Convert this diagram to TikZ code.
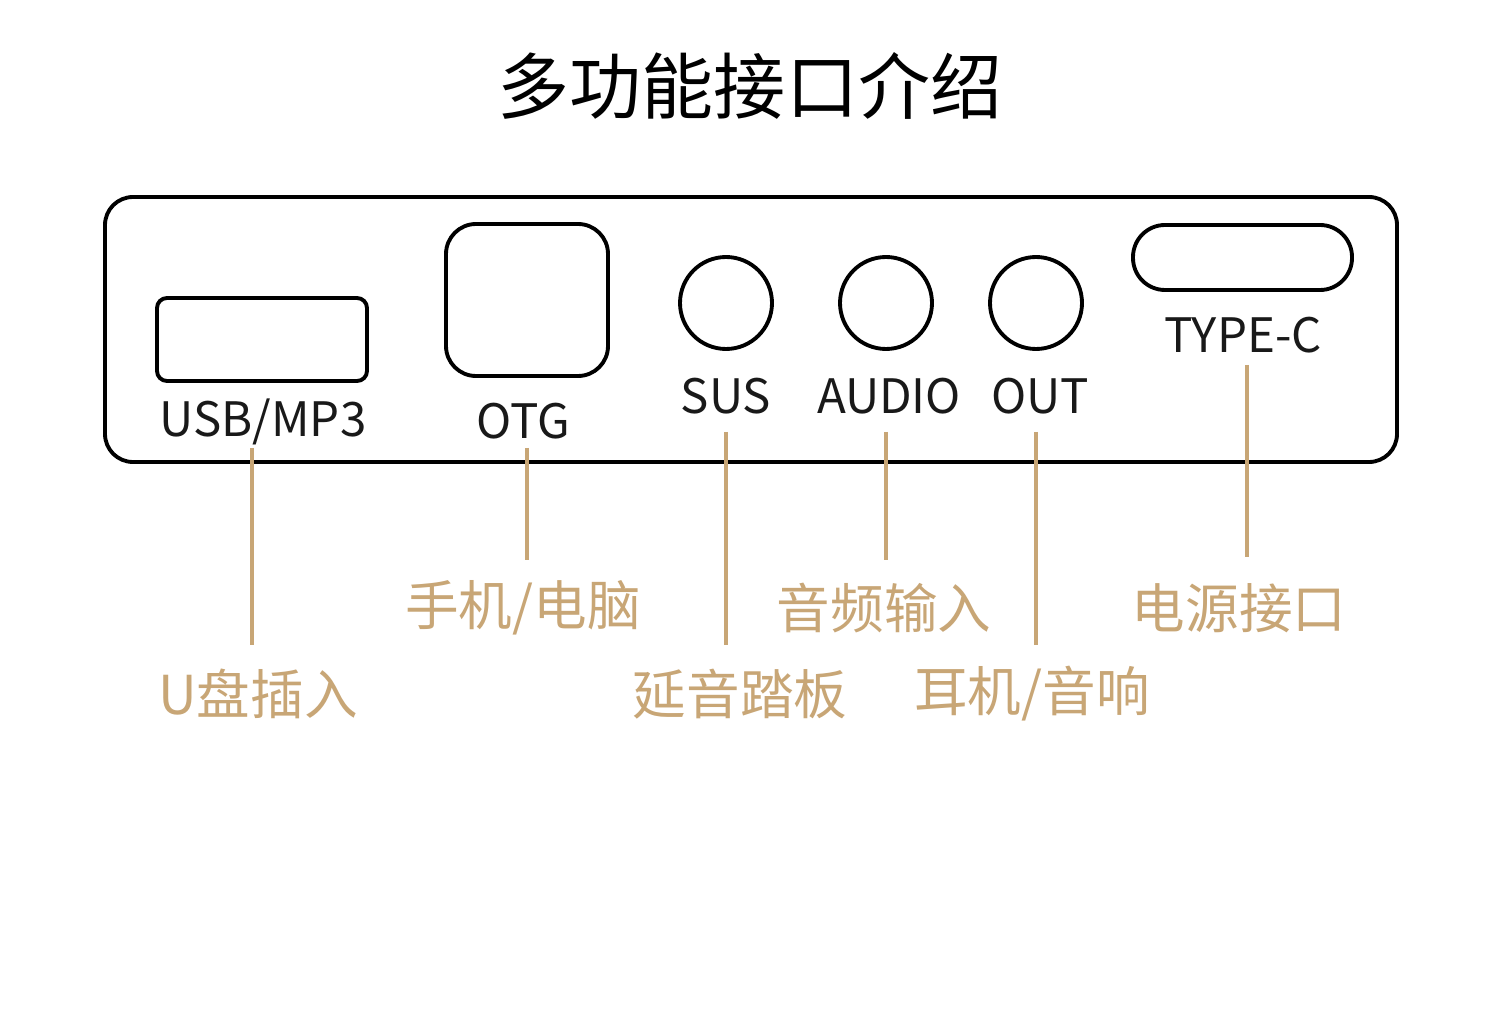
\documentclass[tikz,border=0pt]{standalone}
\usepackage{fontspec}
\setmainfont{Noto Sans CJK SC}
\newfontfamily\cjk{Noto Sans CJK SC}
\definecolor{gold}{RGB}{200,166,118}
\begin{document}
\begin{tikzpicture}[x=0.02cm,y=-0.02cm,
  port/.style={draw=black,line width=2.2pt},
  portlbl/.style={font=\cjk\fontsize{27}{30}\selectfont,inner sep=0pt,anchor=base,text=black!90},
  goldlbl/.style={font=\cjk\fontsize{30.5}{34}\selectfont,inner sep=0pt,text=gold},
  lead/.style={draw=gold,line width=1.8pt}]
\useasboundingbox[fill=white] (0,0) rectangle (1500,1026);
% title
\node[font=\cjk\fontsize{41}{45}\selectfont,inner sep=0pt] (title) at (750,86) {多功能接口介绍};
% panel
\draw[port,rounded corners=28*0.02cm] (105,197) rectangle (1397,462);
% ports
\draw[port,rounded corners=10*0.02cm] (157,298) rectangle (367,381);
\draw[port,rounded corners=30*0.02cm] (446,224) rectangle (608,376);
\draw[port] (726,303) circle (46);
\draw[port] (886,303) circle (46);
\draw[port] (1036,303) circle (46);
\draw[port,rounded corners=32*0.02cm] (1133,225) rectangle (1352,290);
% port labels
\node[portlbl] (usb) at (263,437) {USB/MP3};
\node[portlbl] (otg) at (523,439) {OTG};
\node[portlbl] (sus) at (726,414) {SUS};
\node[portlbl] (audio) at (889,414) {AUDIO};
\node[portlbl] (out) at (1040,414) {OUT};
\node[portlbl] (typec) at (1243,353) {TYPE-C};
% gold labels
\node[goldlbl] (u) at (258,694) {U盘插入};
\node[goldlbl] (pc) at (523,608) {手机/电脑};
\node[goldlbl] (ped) at (740,694) {延音踏板};
\node[goldlbl] (ain) at (884,608) {音频输入};
\node[goldlbl] (hp) at (1032,694) {耳机/音响};
\node[goldlbl] (pw) at (1239,608) {电源接口};
% leader lines
\coordinate (a1) at (252,448); \coordinate (b1) at (252,645);
\coordinate (a2) at (527,448); \coordinate (b2) at (527,560);
\coordinate (a3) at (726,432); \coordinate (b3) at (726,645);
\coordinate (a4) at (886,432); \coordinate (b4) at (886,560);
\coordinate (a5) at (1036,432); \coordinate (b5) at (1036,645);
\coordinate (a6) at (1247,365); \coordinate (b6) at (1247,557);
\draw[lead] (a1) -- (b1);
\draw[lead] (a2) -- (b2);
\draw[lead] (a3) -- (b3);
\draw[lead] (a4) -- (b4);
\draw[lead] (a5) -- (b5);
\draw[lead] (a6) -- (b6);
\end{tikzpicture}
\end{document}
